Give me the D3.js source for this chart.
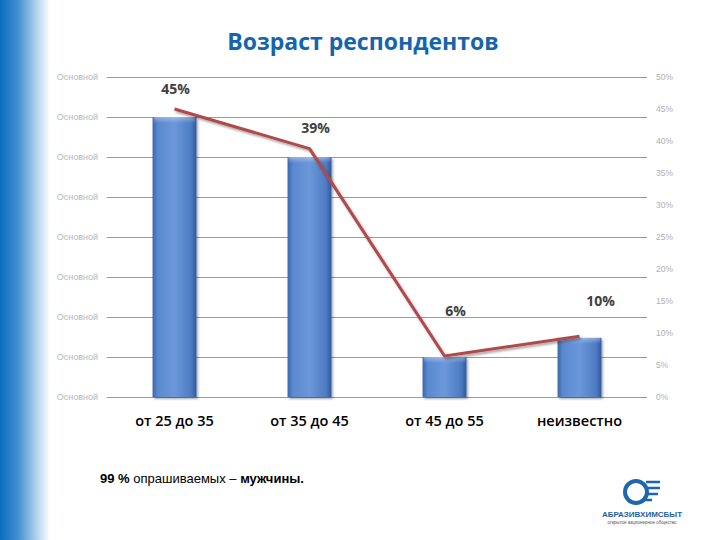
<!DOCTYPE html>
<html><head><meta charset="utf-8">
<script src="https://cdn.jsdelivr.net/npm/d3@7"></script>
<style>body{margin:0;background:#fff;}svg{display:block;}</style>
</head><body><svg id="c" width="720" height="540"></svg>
<script>
const categories = ["от 25 до 35", "от 35 до 45", "от 45 до 55", "неизвестно"];
const barValues = [7, 6, 1, 1.48];
const lineValues = [45, 38.8, 6.4, 9.5];
const dataLabels = ["45%", "39%", "6%", "10%"];
const leftTicks = [0, 1, 2, 3, 4, 5, 6, 7, 8];
const leftTickLabel = "Основной";
const rightTicks = [0, 5, 10, 15, 20, 25, 30, 35, 40, 45, 50];
const title = "Возраст респондентов";

const svg = d3.select("#c");
const defs = svg.append("defs");

// left blue band
const lg = defs.append("linearGradient").attr("id","band").attr("x1",0).attr("x2",1).attr("y1",0).attr("y2",0);
lg.append("stop").attr("offset","0%").attr("stop-color","#0B6EBE");
lg.append("stop").attr("offset","35%").attr("stop-color","#3F8ED0");
lg.append("stop").attr("offset","70%").attr("stop-color","#A9CCEB");
lg.append("stop").attr("offset","100%").attr("stop-color","#ffffff");
svg.append("rect").attr("x",0).attr("y",0).attr("width",50).attr("height",540).attr("fill","url(#band)");

// bar gradient
const bg = defs.append("linearGradient").attr("id","bar").attr("x1",0).attr("x2",1).attr("y1",0).attr("y2",0);
bg.append("stop").attr("offset","0%").attr("stop-color","#3A66AE");
bg.append("stop").attr("offset","12%").attr("stop-color","#5A89CF");
bg.append("stop").attr("offset","50%").attr("stop-color","#6B98DA");
bg.append("stop").attr("offset","88%").attr("stop-color","#4D7BC2");
bg.append("stop").attr("offset","100%").attr("stop-color","#2F589E");
const bgv = defs.append("linearGradient").attr("id","barTop").attr("x1",0).attr("x2",0).attr("y1",0).attr("y2",1);
bgv.append("stop").attr("offset","0%").attr("stop-color","#ffffff").attr("stop-opacity",0.35);
bgv.append("stop").attr("offset","100%").attr("stop-color","#ffffff").attr("stop-opacity",0);

const filt = defs.append("filter").attr("id","sh").attr("x","-10%").attr("y","-10%").attr("width","130%").attr("height","130%");
filt.append("feDropShadow").attr("dx",1.5).attr("dy",2).attr("stdDeviation",1.2).attr("flood-color","#000").attr("flood-opacity",0.35);

const plot = {left:107, right:647, top:77, bottom:397};

const x = d3.scaleBand().domain(categories).range([plot.left, plot.right]).paddingInner(0.675).paddingOuter(0.3375);
const yL = d3.scaleLinear().domain([0, 8]).range([plot.bottom, plot.top]);
const yR = d3.scaleLinear().domain([0, 50]).range([plot.bottom, plot.top]);

// gridlines
svg.append("g").selectAll("line").data(leftTicks).join("line")
  .attr("x1", plot.left).attr("x2", plot.right)
  .attr("y1", d=>yL(d)).attr("y2", d=>yL(d))
  .attr("stroke","#9a9a9a").attr("stroke-width",1).attr("shape-rendering","crispEdges");

// left axis
const axL = d3.axisLeft(yL).tickValues(leftTicks).tickFormat(()=>leftTickLabel).tickSize(0).tickPadding(9);
const gL = svg.append("g").attr("transform",`translate(${plot.left},0)`).call(axL);
gL.select(".domain").remove();
gL.selectAll("text").attr("fill","#b8b8b8").style("font-family","Liberation Sans, Arial").style("font-size","9px");

// right axis
const axR = d3.axisRight(yR).tickValues(rightTicks).tickFormat(d=>d+"%").tickSize(0).tickPadding(9);
const gR = svg.append("g").attr("transform",`translate(${plot.right},0)`).call(axR);
gR.select(".domain").remove();
gR.selectAll("text").attr("fill","#b0b0b0").style("font-family","Liberation Sans, Arial").style("font-size","8.5px");

// bars
const bars = svg.append("g");
bars.selectAll("rect.b").data(categories).join("rect").attr("class","b")
  .attr("x", d=>x(d)).attr("width", x.bandwidth())
  .attr("y", (d,i)=>yL(barValues[i])).attr("height", (d,i)=>yL(0)-yL(barValues[i]))
  .attr("fill","url(#bar)").attr("filter","url(#sh)");
bars.selectAll("rect.t").data(categories).join("rect").attr("class","t")
  .attr("x", d=>x(d)+1).attr("width", x.bandwidth()-2)
  .attr("y", (d,i)=>yL(barValues[i])).attr("height", 6)
  .attr("fill","url(#barTop)");

// line
const line = d3.line().x((d,i)=>x(categories[i])+x.bandwidth()/2).y(d=>yR(d));
svg.append("path").datum(lineValues).attr("d", line)
  .attr("fill","none").attr("stroke","#B04A4C").attr("stroke-width",3)
  .attr("stroke-linejoin","round").attr("filter","url(#sh)");

// data labels
svg.append("g").selectAll("text").data(dataLabels).join("text")
  .attr("x",(d,i)=>x(categories[i])+x.bandwidth()/2 + [1,6,11,21][i])
  .attr("y",(d,i)=>yR(lineValues[i]) - [15,16,40,30][i])
  .attr("text-anchor","middle")
  .attr("fill","#404040").style("font-family","Open Sans, Lato, sans-serif")
  .style("font-weight","bold").style("font-size","14px").text(d=>d);

// category labels
svg.append("g").selectAll("text").data(categories).join("text")
  .attr("x", d=>x(d)+x.bandwidth()/2).attr("y", 426)
  .attr("text-anchor","middle").attr("fill","#000")
  .style("font-family","Open Sans, Lato, sans-serif").style("font-weight","600").style("font-size","14.5px")
  .text(d=>d);

// title
svg.append("text").attr("x",363).attr("y",50).attr("text-anchor","middle")
  .attr("fill","#1565AD").style("font-family","Open Sans, Lato, sans-serif")
  .style("font-weight","bold").style("font-size","23px").text(title);

// footnote
const fn = svg.append("text").attr("x",100).attr("y",483)
  .style("font-family","Liberation Sans, Arial").style("font-size","13px").attr("fill","#000");
fn.append("tspan").style("font-weight","bold").text("99 %");
fn.append("tspan").text(" опрашиваемых – ");
fn.append("tspan").style("font-weight","bold").text("мужчины.");

// logo
const logo = svg.append("g");
logo.append("circle").attr("cx",636).attr("cy",492).attr("r",11).attr("fill","none").attr("stroke","#1E67B0").attr("stroke-width",4);
logo.append("path").attr("d","M646 482 L660 482 M648 488 L660 488 M646 494 L658 494 M644 500 L652 500").attr("stroke","#1E67B0").attr("stroke-width",2.5);
logo.append("text").attr("x",642).attr("y",517).attr("text-anchor","middle").attr("fill","#1E5FA8")
  .style("font-family","Liberation Sans, Arial").style("font-weight","bold").style("font-size","8px").text("АБРАЗИВХИМСБЫТ");
logo.append("text").attr("x",642).attr("y",524).attr("text-anchor","middle").attr("fill","#555")
  .style("font-family","Liberation Sans, Arial").style("font-size","4.5px").text("открытое акционерное общество");
</script></body></html>
